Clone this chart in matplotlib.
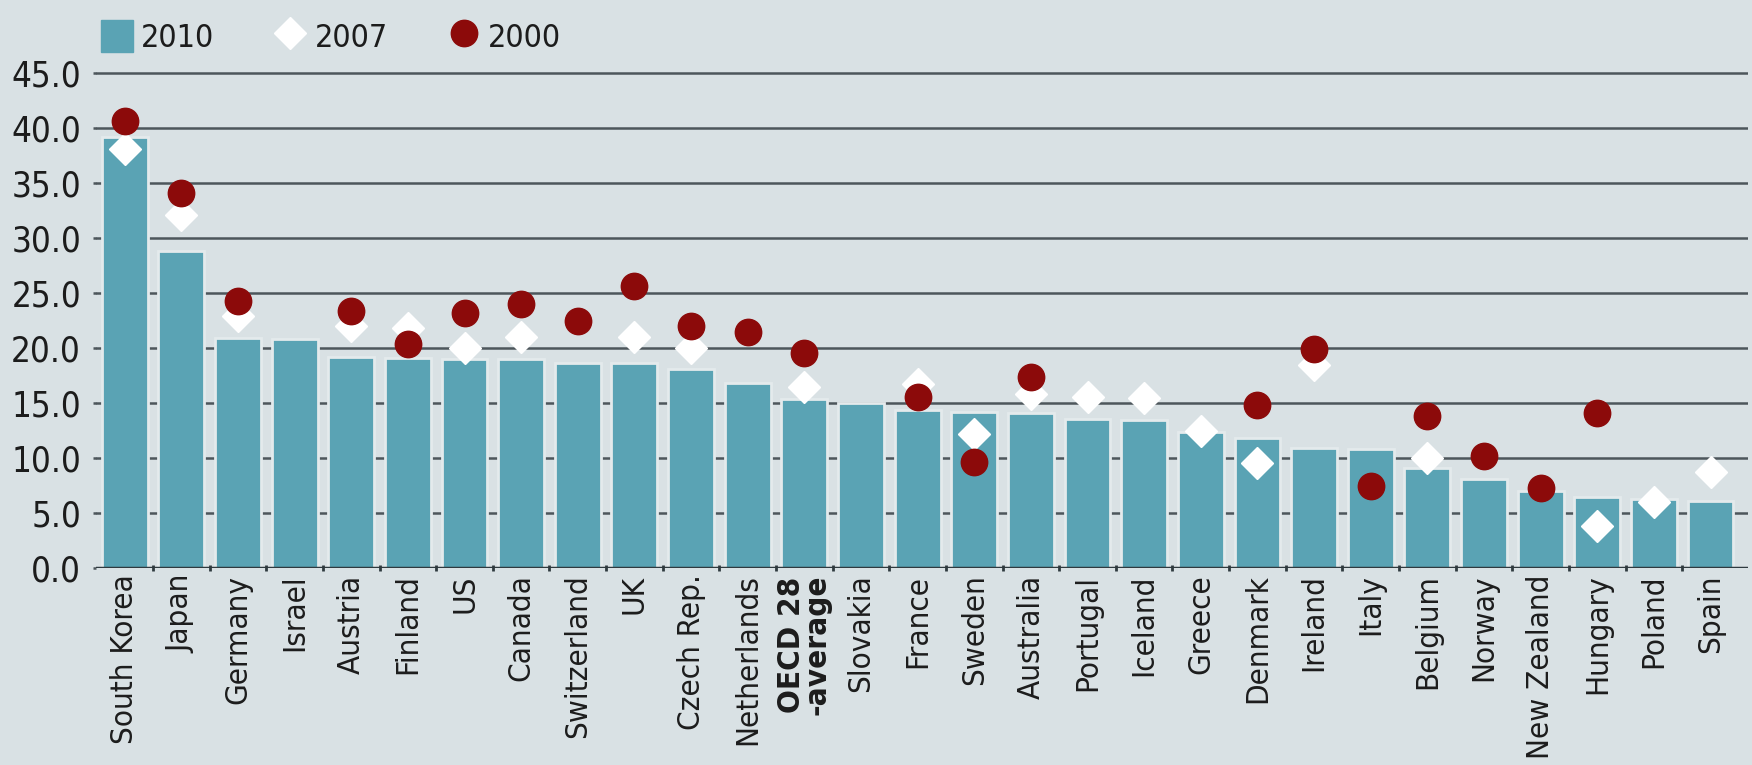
import numpy as np
import matplotlib
matplotlib.use("Agg")
import matplotlib.pyplot as plt
from matplotlib.lines import Line2D
from matplotlib.patches import Patch

countries = ["South Korea", "Japan", "Germany", "Israel", "Austria", "Finland", "US",
             "Canada", "Switzerland", "UK", "Czech Rep.", "Netherlands",
             "OECD 28\n-average", "Slovakia", "France", "Sweden", "Australia",
             "Portugal", "Iceland", "Greece", "Denmark", "Ireland", "Italy",
             "Belgium", "Norway", "New Zealand", "Hungary", "Poland", "Spain"]
v2010 = [39.2, 28.8, 20.9, 20.8, 19.2, 19.1, 19.0, 19.0, 18.6, 18.6, 18.1, 16.8,
         15.3, 15.0, 14.3, 14.2, 14.1, 13.5, 13.4, 12.3, 11.8, 10.9, 10.8,
         9.1, 8.1, 7.0, 6.4, 6.2, 6.1]
v2007 = [38.1, 32.1, 22.9, np.nan, 22.0, 21.8, 20.0, 21.0, np.nan, 21.0, 20.0, np.nan,
         16.4, np.nan, 16.7, 12.2, 15.8, 15.5, 15.4, 12.4, 9.5, 18.4, np.nan,
         10.0, np.nan, np.nan, 3.8, 6.0, 8.7]
v2000 = [40.6, 34.1, 24.3, np.nan, 23.3, 20.3, 23.2, 24.0, 22.4, 25.6, 22.0, 21.4,
         19.5, np.nan, 15.5, 9.6, 17.3, np.nan, np.nan, np.nan, 14.8, 19.9, 7.4,
         13.8, 10.2, 7.2, 14.1, np.nan, np.nan]
yticks = [0, 5, 10, 15, 20, 25, 30, 35, 40, 45]

bg = "#d9e1e4"
teal = "#5aa3b4"
red = "#8c0a0a"
grid = "#4d565b"
txt = "#1c1c1c"
font = dict(family="DejaVu Sans", stretch="condensed")

fig = plt.figure(figsize=(17.52, 7.65), dpi=100, facecolor=bg)
ax = fig.add_axes([0.055, 0.258, 0.943, 0.661])
ax.set_facecolor(bg)

x = np.arange(len(countries))
ax.set_axisbelow(True)
ax.yaxis.grid(True, color=grid, linewidth=1.8)
ax.bar(x, v2010, width=0.81, color=teal, edgecolor="#e4eaec", linewidth=2, zorder=2)
ax.plot(x, v2007, linestyle="none", marker="D", markersize=16, color="white",
        markeredgecolor="white", zorder=3)
ax.plot(x, v2000, linestyle="none", marker="o", markersize=19, color=red,
        markeredgecolor=red, zorder=4)

ax.axhline(0, color="#2f3a3f", linewidth=2.5, zorder=5)
ax.set_xlim(-0.5, len(countries) - 0.33)
ax.set_ylim(0, 46)
ax.set_yticks(yticks)
ax.set_yticklabels([f"{t:.1f}" for t in yticks], fontsize=25, color=txt, **font)
ax.tick_params(axis="y", length=2, width=1.8, color=grid, pad=9)

ax.set_xticks(x)
ax.set_xticklabels(countries, rotation=90, fontsize=22.5, color=txt,
                   va="top", linespacing=0.85, **font)
ax.set_xticks(x[:-1] + 0.5, minor=True)
ax.tick_params(axis="x", which="major", length=0, pad=5)
ax.tick_params(axis="x", which="minor", length=5, width=2, color="#2f3a3f", direction="inout")
for lbl in ax.get_xticklabels():
    if lbl.get_text().startswith("OECD"):
        lbl.set_fontweight("bold")

for s in ax.spines.values():
    s.set_visible(False)

handles = [Patch(facecolor=teal, edgecolor=teal),
           Line2D([], [], linestyle="none", marker="D", markersize=16, color="white"),
           Line2D([], [], linestyle="none", marker="o", markersize=19, color=red)]
fig.legend(handles, ["2010", "2007", "2000"], loc="upper left", bbox_to_anchor=(0.041, 1.012),
           ncol=3, frameon=False, prop=dict(size=23, **font), labelcolor=txt,
           handlelength=1.0, handleheight=1.2, handletextpad=0.25, columnspacing=1.9)

fig.savefig("out.png", dpi=100, facecolor=bg)
